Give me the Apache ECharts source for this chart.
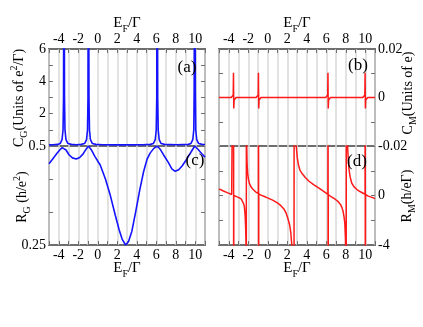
<!DOCTYPE html>
<html>
<head>
<meta charset="utf-8">
<script src="https://cdn.jsdelivr.net/npm/echarts@6/dist/echarts.min.js"></script>
<style>
  html, body { margin: 0; padding: 0; background: #fff; }
  #chart { width: 423px; height: 327px; }
</style>
</head>
<body>
<div id="chart"></div>
<script>
  // shared E_F/Γ axis
  const efMin = -5
  const efMax = 11
  const efTicks = [-4, -2, 0, 2, 4, 6, 8, 10]

  // (a) C_G (units of e^2/Γ), pairs [E_F/Γ, C_G]
  const cgData = [
    [-5, 0.07], [-4.6, 0.08], [-4.1, 0.1], [-3.86, 0.15], [-3.66, 0.4], [-3.56, 1.0], [-3.51, 3],
    [-3.48, 12], [-3.46, 40], [-3.44, 12], [-3.41, 3], [-3.36, 1.0], [-3.26, 0.4], [-3.06, 0.15],
    [-2.7, 0.1], [-2.2, 0.08], [-1.7, 0.1], [-1.35, 0.15], [-1.15, 0.4], [-1.05, 1.0], [-1.0, 3],
    [-0.97, 12], [-0.95, 40], [-0.93, 12], [-0.9, 3], [-0.85, 1.0], [-0.75, 0.4], [-0.55, 0.15],
    [-0.2, 0.1], [0.5, 0.08], [2.5, 0.07], [4.6, 0.08], [5.4, 0.1], [5.7, 0.15], [5.9, 0.4],
    [6.0, 1.0], [6.05, 3], [6.08, 12], [6.1, 40], [6.12, 12], [6.15, 3], [6.2, 1.0], [6.3, 0.4],
    [6.5, 0.15], [6.85, 0.1], [8.1, 0.08], [9.3, 0.1], [9.55, 0.15], [9.75, 0.4], [9.85, 1.0],
    [9.89, 3.5], [9.92, 14], [9.95, 40], [9.98, 14], [10.01, 3.5], [10.05, 1.0], [10.15, 0.4],
    [10.35, 0.15], [10.7, 0.1], [11, 0.09]
  ]
  const cgTicks = [2, 4, 6]

  // (c) R_G (h/e^2)
  const rgData = [
    [-5, 0.455], [-4.6, 0.468], [-4.2, 0.481], [-3.9, 0.49], [-3.65, 0.496], [-3.46, 0.5], [-3.25, 0.49],
    [-2.95, 0.478], [-2.6, 0.47], [-2.2, 0.467], [-1.85, 0.471], [-1.5, 0.48], [-1.2, 0.492], [-0.95, 0.5],
    [-0.65, 0.49], [-0.3, 0.474], [0.25, 0.452], [0.77, 0.418], [1.28, 0.376], [1.8, 0.325], [2.2, 0.288],
    [2.5, 0.265], [2.85, 0.25], [3.15, 0.258], [3.5, 0.285], [3.9, 0.335], [4.3, 0.388], [4.7, 0.435],
    [5.05, 0.466], [5.37, 0.482], [5.75, 0.494], [6.1, 0.5], [6.4, 0.492], [6.74, 0.478], [7.25, 0.458],
    [7.6, 0.442], [7.94, 0.436], [8.3, 0.44], [8.63, 0.449], [9.0, 0.462], [9.3, 0.474], [9.6, 0.486],
    [9.95, 0.5], [10.3, 0.491], [10.65, 0.481], [11, 0.472]
  ]
  const rgTicks = [0.5, 0.25]

  // (b) C_M (units of e)
  const cmData = [
    [-5, 0], [-3.75, 0], [-3.62, 0.0008], [-3.54, 0.001], [-3.515, 0.0102], [-3.485, -0.0045], [-3.45, -0.001], [-3.38, -0.0006], [-3.25, 0],
    [-1.19, 0], [-1.06, 0.0008], [-0.98, 0.001], [-0.955, 0.0102], [-0.925, -0.0045], [-0.89, -0.001], [-0.82, -0.0006], [-0.69, 0],
    [5.94, 0], [6.07, 0.0008], [6.15, 0.001], [6.175, 0.0102], [6.205, -0.0045], [6.24, -0.001], [6.31, -0.0006], [6.44, 0],
    [9.75, 0], [9.88, 0.0008], [9.96, 0.001], [9.985, 0.0102], [10.015, -0.0045], [10.05, -0.001], [10.12, -0.0006], [10.25, 0], [11, 0]
  ]
  const cmTicks = [0.02, 0, -0.02]

  // (d) R_M (h/eΓ)
  const rmData = [
    [-5, 0.53], [-4.6, 0.38], [-4.1, 0.21], [-3.7, 0.08], [-3.52, 0.03], [-3.505, 20], [-3.495, -20], [-3.48, 0],
    [-3.2, -0.09], [-2.91, -0.19], [-2.7, -0.3], [-2.57, -0.46], [-2.47, -0.68], [-2.4, -0.9], [-2.33, -1.5],
    [-2.27, -2.5], [-2.23, -3.8], [-2.21, -10], [-2.2, -40], [-2.19, 40], [-2.18, 10], [-2.16, 4.2], [-2.12, 2.6],
    [-2.06, 1.8], [-1.98, 1.3], [-1.89, 1.0], [-1.72, 0.7], [-1.55, 0.53], [-1.25, 0.3], [-0.96, 0.15],
    [-0.945, 20], [-0.935, -20], [-0.92, 0.13], [-0.7, 0.03], [-0.4, -0.06], [-0.02, -0.19], [0.5, -0.37],
    [0.99, -0.59], [1.35, -0.82], [1.68, -1.12], [1.9, -1.45], [2.09, -1.92], [2.25, -2.4], [2.36, -2.98],
    [2.46, -3.92], [2.6, -8], [2.69, -40], [2.71, 40], [2.85, 7], [2.93, 3.95], [3.02, 3.1], [3.14, 2.5],
    [3.3, 2.05], [3.54, 1.75], [3.85, 1.45], [4.23, 1.15], [4.7, 0.88], [5.25, 0.6], [5.7, 0.36], [6.17, 0.1],
    [6.185, 20], [6.195, -20], [6.21, 0.08], [6.5, -0.1], [6.95, -0.32], [7.25, -0.52], [7.46, -0.72],
    [7.62, -1.0], [7.72, -1.25], [7.82, -1.7], [7.9, -2.2], [7.97, -3.5], [8.0, -8], [8.04, -40], [8.06, 40],
    [8.15, 6], [8.2, 3.8], [8.27, 2.8], [8.34, 2.08], [8.45, 1.5], [8.61, 1.01], [8.85, 0.7], [9.15, 0.48],
    [9.5, 0.3], [9.98, 0.1], [9.995, 20], [10.005, -20], [10.02, 0.08], [10.3, -0.05], [10.7, -0.15], [11, -0.25]
  ]
  const rmTicks = [0, -4]

  const font = 'Liberation Serif'
  const frame = '#6e6e6e'
  const blue = '#1414ff'
  const red = '#ff1a1a'

  const pick = list => v => {
    const t = list.find(x => Math.abs(x - v) < 1e-6)
    return t === undefined ? '' : String(t)
  }

  function xAxis (grid, pos, labels) {
    return {
      type: 'value', gridIndex: grid, position: pos, min: efMin, max: efMax, interval: 1,
      axisLine: {show: false, onZero: false},
      axisTick: {inside: true, length: 4, lineStyle: {color: frame, width: 1}},
      axisLabel: labels
        ? {margin: 3, fontFamily: font, fontSize: 14, color: '#000', formatter: pick(efTicks)}
        : {show: false},
      splitLine: {show: true, lineStyle: {color: '#d9d9d9', width: 1.5}}
    }
  }

  function yAxis (grid, pos, min, max, interval, ticks) {
    return {
      type: 'value', gridIndex: grid, position: pos, min, max, interval,
      axisLine: {show: false, onZero: false},
      axisTick: {inside: true, length: 4, lineStyle: {color: frame, width: 1}},
      axisLabel: ticks
        ? {margin: 3, fontFamily: font, fontSize: 14, color: '#000', formatter: pick(ticks)}
        : {show: false},
      splitLine: {show: false}
    }
  }

  const frameGrid = (left, top, height) => ({
    left, top, width: 156, height, show: true, borderColor: frame, borderWidth: 2,
    outerBoundsMode: 'none', containLabel: false
  })

  const rich = {
    m: {fontFamily: font, fontSize: 14, lineHeight: 20, fill: '#000'},
    s: {fontFamily: font, fontSize: 10, lineHeight: 10, verticalAlign: 'bottom', fill: '#000'},
    p: {fontFamily: font, fontSize: 10, lineHeight: 10, verticalAlign: 'top', fill: '#000'},
    x: {fontFamily: font, fontSize: 15, lineHeight: 22, fill: '#000'}
  }
  function text (x, y, str, rot, size) {
    return {
      type: 'text', x, y, rotation: rot || 0, z: 100,
      style: {text: str, rich, align: 'center', verticalAlign: 'middle', fontFamily: font, fontSize: size || 14, fill: '#000'}
    }
  }
  const efName = '{x|E}{s|F}{x|/Γ}'

  const line = (xi, yi, data, color, width) => ({
    type: 'line', xAxisIndex: xi, yAxisIndex: yi, data, showSymbol: false, symbol: 'none',
    clip: true, lineStyle: {color, width}, itemStyle: {color}
  })

  const chart = echarts.init(document.getElementById('chart'))
  chart.setOption({
    animation: false,
    backgroundColor: '#fff',
    grid: [
      frameGrid(49, 49, 97),
      frameGrid(49, 146, 99),
      frameGrid(219, 49, 97),
      frameGrid(219, 146, 99)
    ],
    xAxis: [
      xAxis(0, 'top', true),
      xAxis(1, 'bottom', true),
      xAxis(2, 'top', true),
      xAxis(3, 'bottom', true)
    ],
    yAxis: [
      yAxis(0, 'left', 0, 6, 1, cgTicks),
      yAxis(0, 'right', 0, 6, 1, null),
      yAxis(1, 'left', 0.25, 0.5, 1 / 12, rgTicks),
      yAxis(1, 'right', 0.25, 0.5, 1 / 12, null),
      yAxis(2, 'right', -0.02, 0.02, 0.01, cmTicks),
      yAxis(2, 'left', -0.02, 0.02, 0.01, null),
      yAxis(3, 'right', -4, 4, 2, rmTicks),
      yAxis(3, 'left', -4, 4, 2, null)
    ],
    series: [
      line(0, 0, cgData, blue, 1.6),
      line(1, 2, rgData, blue, 1.6),
      line(2, 4, cmData, red, 1.5),
      line(3, 6, rmData, red, 1.5)
    ],
    graphic: [
      text(127, 23, efName),
      text(297, 23, efName),
      text(127, 268, efName),
      text(297, 268, efName),
      text(19, 98, '{m|C}{s|G}{m|(Units of e}{p|2}{m|/Γ)}', Math.PI / 2),
      text(22, 197, '{m|R}{s|G}{m| (h/e}{p|2}{m|)}', Math.PI / 2),
      text(408, 93, '{m|C}{s|M}{m|(Units of e)}', Math.PI / 2),
      text(407, 196, '{m|R}{s|M}{m|(h/eΓ)}', Math.PI / 2),
      text(187, 68, '(a)', 0, 17),
      text(358, 66, '(b)', 0, 17),
      text(195, 161, '(c)', 0, 17),
      text(357, 162, '(d)', 0, 17)
    ]
  })
</script>
</body>
</html>
